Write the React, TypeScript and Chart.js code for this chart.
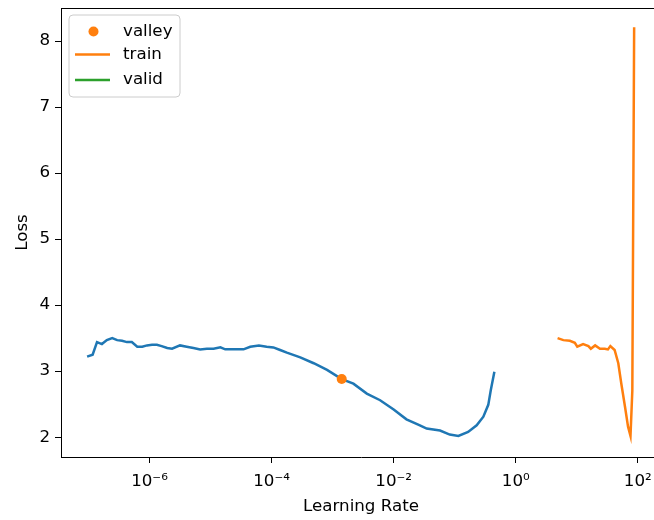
import React, { useEffect, useRef } from 'react';
import { Chart, registerables } from 'chart.js';

Chart.register(...registerables);

// Unlabelled (blue) loss curve
const finderLr = [
  9.5e-8, 1.17e-7, 1.38e-7, 1.66e-7, 2.0e-7, 2.45e-7, 2.95e-7, 3.55e-7, 4.27e-7, 5.13e-7,
  6.3e-7, 7.6e-7, 9.1e-7, 1.1e-6, 1.32e-6, 1.58e-6, 1.95e-6, 2.34e-6, 3.16e-6, 4.07e-6,
  5.25e-6, 6.76e-6, 8.7e-6, 1.12e-5, 1.45e-5, 1.74e-5, 2.4e-5, 3.47e-5, 4.47e-5, 6.2e-5,
  8.3e-5, 1.07e-4, 1.38e-4, 1.78e-4, 2.95e-4, 4.9e-4, 8.1e-4, 1.41e-3, 2.19e-3, 3.63e-3,
  6.0e-3, 1.0e-2, 1.62e-2, 2.69e-2, 3.47e-2, 5.75e-2, 8.3e-2, 0.115, 0.166, 0.229,
  0.295, 0.355, 0.39, 0.447,
];
const finderLoss = [
  3.22, 3.25, 3.44, 3.41, 3.47, 3.5, 3.47, 3.46, 3.44, 3.44,
  3.37, 3.37, 3.39, 3.4, 3.4, 3.38, 3.35, 3.34, 3.39, 3.37,
  3.35, 3.33, 3.34, 3.34, 3.36, 3.33, 3.33, 3.33, 3.37, 3.39,
  3.37, 3.36, 3.32, 3.28, 3.21, 3.12, 3.02, 2.88, 2.81, 2.66,
  2.56, 2.42, 2.27, 2.18, 2.13, 2.1, 2.04, 2.02, 2.08, 2.18,
  2.31, 2.49, 2.71, 2.99,
];

// "train" (orange) curve
const trainLr = [
  4.85, 6.03, 7.7, 9.3, 10.2, 12.7, 15.5, 17.0, 20.0, 24.0,
  28.8, 32.4, 35.5, 41.7, 47.9, 53.7, 61.7, 69.2, 75.9, 81.3, 87.1,
];
const trainLoss = [
  3.5, 3.47, 3.46, 3.43, 3.37, 3.41, 3.38, 3.34, 3.39, 3.34,
  3.34, 3.33, 3.38, 3.32, 3.12, 2.81, 2.46, 2.16, 2.02, 2.7, 8.21,
];

// "valid" (green) curve: no points drawn
const validLr: number[] = [];
const validLoss: number[] = [];

// valley marker
const valleyLr = [1.41e-3];
const valleyLoss = [2.88];

const xTickValues = [1e-6, 1e-4, 1e-2, 1, 100];
const xTickLabels = ['10\u207B\u2076', '10\u207B\u2074', '10\u207B\u00B2', '10\u2070', '10\u00B2'];
const yTickValues = [2, 3, 4, 5, 6, 7, 8];

const legendLabels = ['valley', 'train', 'valid'];

const BLUE = '#1f77b4';
const ORANGE = '#ff7f0e';
const GREEN = '#2ca02c';
const FONT = { family: 'DejaVu Sans', size: 16.7 };

const toPoints = (xs: number[], ys: number[]) => xs.map((x, i) => ({ x, y: ys[i] }));

const frameAndLegend = {
  id: 'frameAndLegend',
  afterDraw(chart: any) {
    const ctx = chart.ctx;
    const a = chart.chartArea;
    ctx.save();
    // top and right spines
    ctx.strokeStyle = '#000';
    ctx.lineWidth = 1;
    ctx.beginPath();
    ctx.moveTo(a.left, a.top + 0.5);
    ctx.lineTo(a.right, a.top + 0.5);
    ctx.lineTo(a.right, a.bottom);
    ctx.stroke();

    // legend box
    const bx = a.left + 8;
    const by = a.top + 7;
    const bw = 111;
    const bh = 82;
    const r = 4;
    ctx.beginPath();
    ctx.moveTo(bx + r, by);
    ctx.arcTo(bx + bw, by, bx + bw, by + bh, r);
    ctx.arcTo(bx + bw, by + bh, bx, by + bh, r);
    ctx.arcTo(bx, by + bh, bx, by, r);
    ctx.arcTo(bx, by, bx + bw, by, r);
    ctx.closePath();
    ctx.fillStyle = 'rgba(255,255,255,0.8)';
    ctx.fill();
    ctx.strokeStyle = '#cccccc';
    ctx.lineWidth = 1;
    ctx.stroke();

    const rowY = [by + 16.5, by + 39.5, by + 65];
    // valley marker
    ctx.fillStyle = ORANGE;
    ctx.beginPath();
    ctx.arc(bx + 24.5, rowY[0], 5, 0, Math.PI * 2);
    ctx.fill();
    // train line
    ctx.lineWidth = 2.5;
    ctx.strokeStyle = ORANGE;
    ctx.beginPath();
    ctx.moveTo(bx + 6, rowY[1]);
    ctx.lineTo(bx + 41, rowY[1]);
    ctx.stroke();
    // valid line
    ctx.strokeStyle = GREEN;
    ctx.beginPath();
    ctx.moveTo(bx + 6, rowY[2]);
    ctx.lineTo(bx + 41, rowY[2]);
    ctx.stroke();

    ctx.fillStyle = '#000';
    ctx.font = `${FONT.size}px "${FONT.family}"`;
    ctx.textAlign = 'left';
    ctx.textBaseline = 'middle';
    legendLabels.forEach((t, i) => ctx.fillText(t, bx + 54, rowY[i]));
    ctx.restore();
  },
};

export default function App() {
  const ref = useRef<HTMLCanvasElement | null>(null);

  useEffect(() => {
    if (!ref.current) return;
    const chart = new Chart(ref.current, {
      type: 'line',
      data: {
        datasets: [
          {
            label: '',
            data: toPoints(finderLr, finderLoss),
            borderColor: BLUE,
            borderWidth: 2.5,
            pointRadius: 0,
            fill: false,
            tension: 0,
            order: 2,
          },
          {
            label: 'train',
            data: toPoints(trainLr, trainLoss),
            borderColor: ORANGE,
            borderWidth: 2.5,
            pointRadius: 0,
            fill: false,
            tension: 0,
            order: 1,
          },
          {
            label: 'valid',
            data: toPoints(validLr, validLoss),
            borderColor: GREEN,
            borderWidth: 2.5,
            pointRadius: 0,
            fill: false,
            order: 1,
          },
          {
            label: 'valley',
            data: toPoints(valleyLr, valleyLoss),
            showLine: false,
            pointRadius: 5,
            pointBackgroundColor: ORANGE,
            pointBorderColor: ORANGE,
            pointBorderWidth: 0,
            order: 0,
          },
        ],
      },
      options: {
        responsive: false,
        animation: false,
        parsing: false as any,
        layout: { padding: { top: 8, right: 9, left: 0, bottom: 0 } },
        plugins: { legend: { display: false }, tooltip: { enabled: false } },
        scales: {
          x: {
            type: 'logarithmic',
            min: Math.pow(10, -7.45),
            max: Math.pow(10, 2.38),
            afterBuildTicks: (s: any) => {
              s.ticks = xTickValues.map((v) => ({ value: v }));
            },
            afterFit: (s: any) => {
              s.height = 63;
              s.paddingLeft = 0;
              s.paddingRight = 0;
            },
            ticks: {
              autoSkip: false,
              maxRotation: 0,
              color: '#000',
              font: FONT,
              padding: 9,
              callback: (_v: any, i: number) => xTickLabels[i],
            },
            grid: { drawOnChartArea: false, drawTicks: true, tickLength: 6, color: '#000' },
            border: { display: true, color: '#000', width: 1 },
            title: {
              display: true,
              text: 'Learning Rate',
              color: '#000',
              font: FONT,
              padding: { top: 0, bottom: 3 },
            },
          },
          y: {
            type: 'linear',
            min: 1.7,
            max: 8.5,
            afterBuildTicks: (s: any) => {
              s.ticks = yTickValues.map((v) => ({ value: v }));
            },
            afterFit: (s: any) => {
              s.width = 61;
              s.paddingTop = 0;
              s.paddingBottom = 0;
            },
            ticks: { color: '#000', font: FONT, padding: 5 },
            grid: { drawOnChartArea: false, drawTicks: true, tickLength: 6, color: '#000' },
            border: { display: true, color: '#000', width: 1 },
            title: {
              display: true,
              text: 'Loss',
              color: '#000',
              font: FONT,
              padding: { top: 13, bottom: 0 },
            },
          },
        },
      },
      plugins: [frameAndLegend],
    });
    return () => chart.destroy();
  }, []);

  return (
    <div style={{ position: 'absolute', left: 0, top: 0, width: 654, height: 520, overflow: 'hidden', background: '#fff' }}>
      <canvas ref={ref} width={670} height={520} style={{ display: 'block' }} />
    </div>
  );
}
